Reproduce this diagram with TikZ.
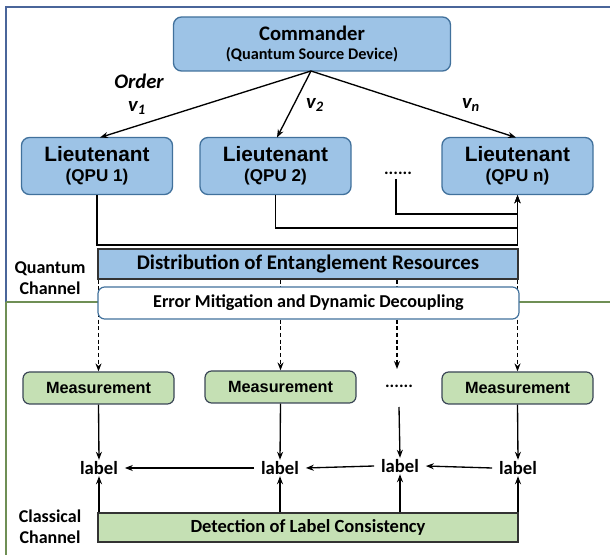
\documentclass[tikz,border=0pt]{standalone}
\usepackage{fontspec}
\setmainfont{Carlito}
\newfontfamily\arialf{Liberation Sans}
\usetikzlibrary{arrows.meta,backgrounds}
\definecolor{bfill}{HTML}{9DC3E6}
\definecolor{bdraw}{HTML}{41719C}
\definecolor{gfill}{HTML}{C5E0B4}
\definecolor{gdraw}{HTML}{3A4656}
\definecolor{frameblue}{HTML}{4A659A}
\definecolor{framegreen}{HTML}{6F8F55}
\tikzset{
  bluebox/.style={draw=bdraw,fill=bfill,line width=1pt,rounded corners=6pt,inner sep=0pt},
  greenbox/.style={draw=gdraw,fill=gfill,line width=0.9pt,rounded corners=5pt,inner sep=0pt,font=\arialf\bfseries\fontsize{12.2}{14}\selectfont},
  barbox/.style={draw=black!80,line width=0.9pt,inner sep=0pt},
  arr/.style={line width=1pt,-{Stealth[length=6pt,width=4.5pt]}},
  dasharr/.style={line width=1pt,dashed,dash pattern=on 3pt off 2pt,-{Stealth[length=6pt,width=4.5pt]}},
  lbl/.style={font=\bfseries\fontsize{14}{16}\selectfont,inner sep=1pt},
  side/.style={font=\bfseries\fontsize{13.5}{15.5}\selectfont,align=center,inner sep=0pt},
  ital/.style={font=\bfseries\itshape\fontsize{15.5}{17}\selectfont,inner sep=0pt},
  dotsn/.style={font=\bfseries\fontsize{13}{14}\selectfont,inner sep=0pt}
}
\begin{document}
\begin{tikzpicture}[x=0.75pt,y=-0.75pt]
\useasboundingbox (0,0) rectangle (610,555);
% commander
\node[bluebox,minimum width=277*0.75pt,minimum height=54*0.75pt,align=center] (cmd) at (312,44)
  {{\fontsize{15.5}{17}\selectfont\bfseries Commander}\\[2.5pt]{\fontsize{12.2}{13}\selectfont\bfseries (Quantum Source Device)}};
% lieutenants
\tikzset{lt/.style={bluebox,minimum width=151*0.75pt,minimum height=57*0.75pt,align=center}}
\node[lt] (L1) at (97,166) {{\arialf\bfseries\fontsize{15.6}{17}\selectfont Lieutenant}\\[3pt]{\arialf\bfseries\fontsize{12.8}{14}\selectfont (QPU 1)}};
\node[lt] (L2) at (275.5,166) {{\arialf\bfseries\fontsize{15.6}{17}\selectfont Lieutenant}\\[3pt]{\arialf\bfseries\fontsize{12.8}{14}\selectfont (QPU 2)}};
\node[lt] (Ln) at (517.5,166) {{\arialf\bfseries\fontsize{15.6}{17}\selectfont Lieutenant}\\[3pt]{\arialf\bfseries\fontsize{12.8}{14}\selectfont (QPU n)}};
\node[dotsn] (dots1) at (398,173) {......};
% commander arrows
\coordinate (cs) at (311,71);
\coordinate (t1) at (100,137.5);
\coordinate (t2) at (277,137.5);
\coordinate (tn) at (516,137.5);
\draw[arr] (cs) -- (t1);
\draw[arr] (cs) -- (t2);
\draw[arr] (cs) -- (tn);
\node[ital] (order) at (139,81) {Order};
\node[ital] (v1) at (137,108) {v\textsubscript{1}};
\node[ital] (v2) at (315,105) {v\textsubscript{2}};
\node[ital] (vn) at (471,105) {v\textsubscript{n}};
% joins
\coordinate (j1) at (97,245);
\coordinate (j2) at (275.5,228);
\coordinate (d0) at (396,179);
\coordinate (j3) at (396,214);
\draw[arr] (L1.south) -- (j1) -| (Ln.south);
\draw[arr] (L2.south) -- (j2) -| (Ln.south);
\draw[arr] (d0) -- (j3) -| (Ln.south);
% channel bars
\node[barbox,fill=bfill,minimum width=420*0.75pt,minimum height=30*0.75pt,font=\bfseries\fontsize{15.6}{17}\selectfont] (dist) at (308,264) {Distribution of Entanglement Resources};
\node[draw=bdraw,fill=white,line width=0.9pt,rounded corners=5pt,minimum width=421*0.75pt,minimum height=32*0.75pt,inner sep=0pt,font=\bfseries\fontsize{13.6}{15}\selectfont] (err) at (308.5,303) {Error Mitigation and Dynamic Decoupling};
\node[side] (qc) at (50,278) {Quantum\\Channel};
% measurements
\tikzset{ms/.style={greenbox,minimum width=151*0.75pt,minimum height=32*0.75pt}}
\node[ms] (M1) at (98.5,388) {Measurement};
\node[ms] (M2) at (280.5,387) {Measurement};
\node[ms] (Mn) at (517.5,388) {Measurement};
\node[dotsn] (dots2) at (399,386) {......};
\coordinate (m3top) at (397,369);
\coordinate (m3bot) at (399,407);
% frame and dashed arrows (behind the error box)
\begin{scope}[on background layer]
\draw[frameblue,line width=1.3pt] (610,7) -- (6,7) -- (6,302);
\draw[framegreen,line width=1.3pt] (6,302) -- (6,555);
\draw[framegreen,line width=1.1pt] (6,302) -- (610,302);
\draw[dasharr] (M1 |- dist.south) -- (M1.north);
\draw[dasharr] (M2 |- dist.south) -- (M2.north);
\draw[dasharr] (m3top |- dist.south) -- (m3top);
\draw[dasharr] (Mn |- dist.south) -- (Mn.north);
\end{scope}
% labels
\node[lbl] (lab1) at (99,468) {label};
\node[lbl] (lab2) at (280,468) {label};
\node[lbl] (lab3) at (400,466) {label};
\node[lbl] (lab4) at (518,468) {label};
\draw[arr] (M1.south) -- (lab1.north);
\draw[arr] (M2.south) -- (lab2.north);
\draw[arr] (m3bot) -- (lab3.north);
\draw[arr] (Mn.south) -- (lab4.north);
\draw[arr] ([xshift=-4pt]lab4.west) -- ([xshift=4pt]lab3.east);
\draw[arr] ([xshift=-4pt]lab3.west) -- ([xshift=4pt]lab2.east);
\draw[arr] ([xshift=-4pt]lab2.west) -- ([xshift=4pt]lab1.east);
% detection
\node[barbox,fill=gfill,minimum width=420*0.75pt,minimum height=29*0.75pt,font=\bfseries\fontsize{13.9}{15}\selectfont] (det) at (308,527.5) {Detection of Label Consistency};
\node[side] (cc) at (50,527) {Classical\\Channel};
\draw[arr] (det.north -| lab1) -- (lab1.south);
\draw[arr] (det.north -| lab2) -- (lab2.south);
\draw[arr] (det.north -| lab3) -- (lab3.south);
\draw[arr] (det.north -| lab4) -- (lab4.south);
\end{tikzpicture}
\end{document}
